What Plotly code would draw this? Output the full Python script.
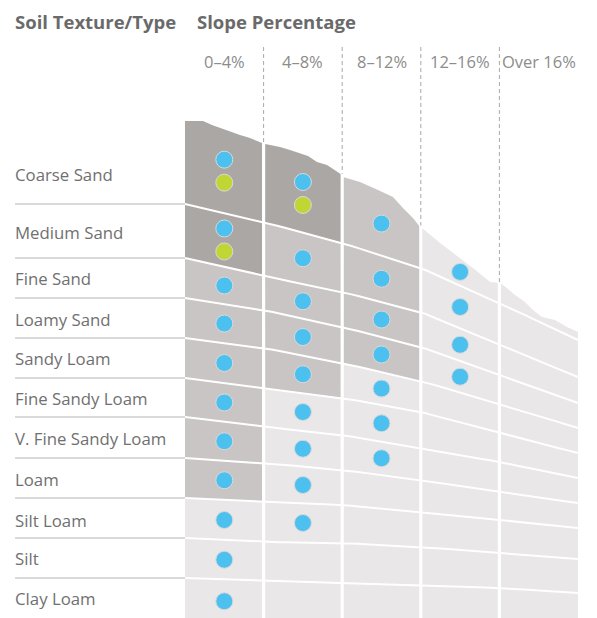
import numpy as np
import plotly.graph_objects as go

# ---------------- data ----------------
soils = ["Coarse Sand", "Medium Sand", "Fine Sand", "Loamy Sand", "Sandy Loam",
         "Fine Sandy Loam", "V. Fine Sandy Loam", "Loam", "Silt Loam", "Silt", "Clay Loam"]
slopes = ["0–4%", "4–8%", "8–12%", "12–16%", "Over 16%"]
# suitability per slope class: 0 = none, 1 = blue dot, 2 = blue + green dots
suit_0_4 = [2, 2, 1, 1, 1, 1, 1, 1, 1, 1, 1]
suit_4_8 = [2, 1, 1, 1, 1, 1, 1, 1, 1, 0, 0]
suit_8_12 = [1, 1, 1, 1, 1, 1, 1, 0, 0, 0, 0]
suit_12_16 = [1, 1, 1, 1, 0, 0, 0, 0, 0, 0, 0]
suit_over16 = [0, 0, 0, 0, 0, 0, 0, 0, 0, 0, 0]
suitability = [suit_0_4, suit_4_8, suit_8_12, suit_12_16, suit_over16]
# shading per slope class: 0 = light, 1 = medium, 2 = dark
shade_0_4 = [2, 2, 1, 1, 1, 1, 1, 1, 0, 0, 0]
shade_4_8 = [2, 1, 1, 1, 1, 0, 0, 0, 0, 0, 0]
shade_8_12 = [1, 1, 1, 1, 0, 0, 0, 0, 0, 0, 0]
shade_12_16 = [0] * 11
shade_over16 = [0] * 11
shading = [shade_0_4, shade_4_8, shade_8_12, shade_12_16, shade_over16]

# ---------------- layout geometry (page pixels) ----------------
W, H = 597, 618
OFF = 8  # page body margin of the html document
GL, GR = 185.0, 578.0
edges = np.linspace(GL, GR, len(slopes) + 1)
# row boundaries, y at each column edge
bounds = [
    [204, 222, 243, 268, 303, 340],
    [258, 276, 292, 312, 345, 377],
    [298, 310, 327, 347, 375, 403],
    [338, 348, 363, 381, 404, 428],
    [378, 388, 398, 412, 433, 453],
    [417, 427, 435, 448, 462, 478],
    [458, 463, 470, 480, 492, 503],
    [498, 502, 505, 512, 520, 528],
    [538, 542, 543, 547, 553, 559],
    [578, 581, 583, 585, 588, 593],
]
terrain_x = [185, 203, 212, 220, 230, 240, 250, 262, 265, 280, 290, 298, 308, 317, 327, 342,
             343, 360, 378, 393, 402, 413, 420, 422, 440, 457, 473, 490, 500, 503, 515, 525,
             533, 542, 555, 567, 578]
terrain_y = [121, 121, 125, 128, 131, 135, 138, 143, 144, 147, 150, 153, 156, 162, 165, 175,
             177, 182, 190, 197, 207, 218, 227, 228, 243, 256, 268, 282, 283, 285, 295, 302,
             310, 317, 320, 327, 332]
terrain_x = np.array(terrain_x, float)
terrain_y = np.array(terrain_y, float)

shade_colors = {0: "#e9e7e8", 1: "#c9c5c4", 2: "#aba7a4"}
BLUE, GREEN = "#4cc0ee", "#bfd634"
GAP = 1.6


def bnd(k, x):
    return np.interp(x, edges, bounds[k])


def top_curve(r, xs):
    if r == 0:
        return np.interp(xs, terrain_x, terrain_y)
    return bnd(r - 1, xs)


def bot_curve(r, xs):
    if r >= len(bounds):
        return np.full_like(xs, H + 5)
    return bnd(r, xs)


fig = go.Figure()

# dashed column separators above terrain
for i in range(1, len(slopes)):
    xe = edges[i]
    ytop = np.interp([xe - 2, xe + 2], terrain_x, terrain_y).min()
    fig.add_trace(go.Scatter(x=[xe, xe], y=[47, ytop], mode="lines",
                             line=dict(color="#a9a9a9", width=1, dash="4px,3px"),
                             hoverinfo="skip", showlegend=False))

# cells
for c in range(len(slopes)):
    xl, xr = edges[c] + (GAP if c > 0 else 0), edges[c + 1] - (GAP if c < len(slopes) - 1 else 0)
    inner = terrain_x[(terrain_x > xl) & (terrain_x < xr)]
    for r in range(len(soils)):
        if r == 0:
            xs = np.concatenate([[xl], inner, [xr]])
        else:
            xs = np.linspace(xl, xr, 12)
        yt = top_curve(r, xs)
        xb = np.linspace(xr, xl, 12)
        yb = bot_curve(r, xb)
        fig.add_trace(go.Scatter(
            x=np.concatenate([xs, xb, [xs[0]]]), y=np.concatenate([yt, yb, [yt[0]]]),
            mode="lines", fill="toself", fillcolor=shade_colors[shading[c][r]],
            line=dict(width=0, color=shade_colors[shading[c][r]]),
            hoverinfo="skip", showlegend=False))

# white row boundaries across the grid + gray guide lines under labels
xs_full = np.linspace(GL, GR, 60)
for k in range(len(bounds)):
    ys = bnd(k, xs_full)
    fig.add_trace(go.Scatter(x=xs_full, y=ys, mode="lines",
                             line=dict(color="white", width=2), hoverinfo="skip", showlegend=False))
    fig.add_trace(go.Scatter(x=[15, GL], y=[bounds[k][0], bounds[k][0]], mode="lines",
                             line=dict(color="#b4b4b4", width=1), hoverinfo="skip", showlegend=False))

# dots
bx, by, gx, gy = [], [], [], []
for c in range(len(slopes)):
    xc = (edges[c] + edges[c + 1]) / 2
    for r in range(len(soils)):
        v = suitability[c][r]
        if v == 0:
            continue
        ym = (top_curve(r, np.array([xc]))[0] + bot_curve(r, np.array([xc]))[0]) / 2
        if v == 2:
            bx.append(xc); by.append(ym - 11.5)
            gx.append(xc); gy.append(ym + 11.5)
        else:
            bx.append(xc); by.append(ym)
fig.add_trace(go.Scatter(x=bx, y=by, mode="markers",
                         marker=dict(size=17, color=BLUE, line=dict(color="#d9d9d9", width=1)),
                         hoverinfo="skip", showlegend=False))
fig.add_trace(go.Scatter(x=gx, y=gy, mode="markers",
                         marker=dict(size=17, color=GREEN, line=dict(color="#d9d9d9", width=1)),
                         hoverinfo="skip", showlegend=False))

# texts
FONT = "Open Sans"
ann = []
ann.append(dict(x=13, y=21, text="<b>Soil Texture/Type</b>", xanchor="left", yanchor="middle",
                font=dict(family=FONT, size=18.5, color="#6a6a6a")))
ann.append(dict(x=195, y=21, text="<b>Slope Percentage</b>", xanchor="left", yanchor="middle",
                font=dict(family=FONT, size=18.5, color="#6a6a6a")))
for c, s in enumerate(slopes):
    ann.append(dict(x=(edges[c] + edges[c + 1]) / 2, y=61, text=s, xanchor="center", yanchor="middle",
                    font=dict(family=FONT, size=16.5, color="#8c8c8c")))
label_y = [174, 232, 278, 319, 358, 398, 438, 479, 520, 558, 598]
for s, ly in zip(soils, label_y):
    ann.append(dict(x=13, y=ly, text=s, xanchor="left", yanchor="middle",
                    font=dict(family=FONT, size=16.8, color="#707070")))
for a in ann:
    a.update(xref="x", yref="y", showarrow=False)

fig.update_layout(
    width=W, height=H, margin=dict(l=0, r=0, t=0, b=0),
    paper_bgcolor="white", plot_bgcolor="white",
    xaxis=dict(range=[OFF, W + OFF], visible=False, fixedrange=True),
    yaxis=dict(range=[H + OFF, OFF], visible=False, fixedrange=True),
    annotations=ann, showlegend=False,
)
fig.write_html("out.html")
